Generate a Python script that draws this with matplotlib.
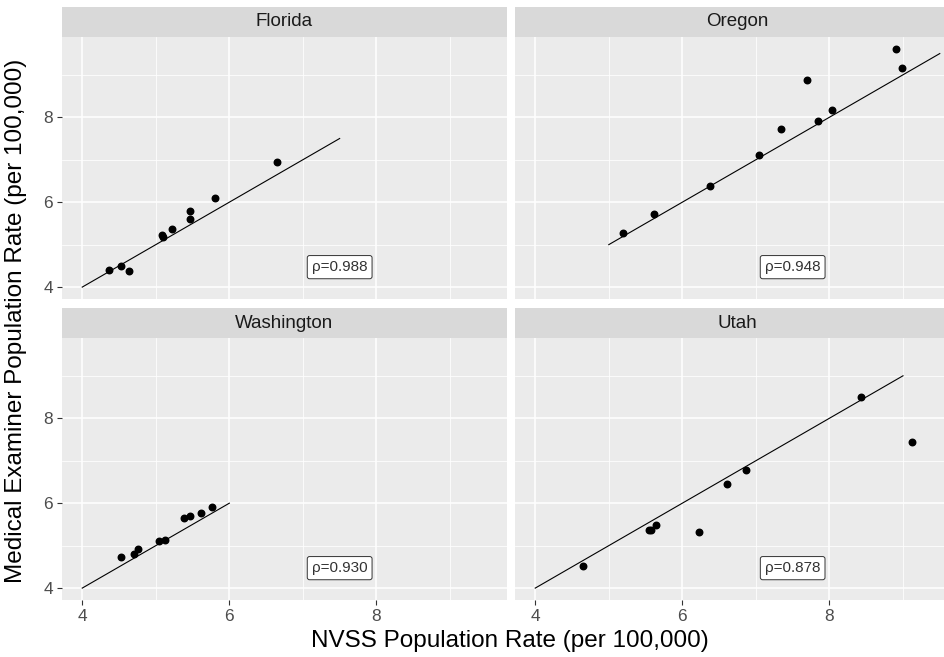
import numpy as np
import matplotlib
matplotlib.use('Agg')
import matplotlib.pyplot as plt

plt.rcParams['font.family'] = ['Liberation Sans', 'DejaVu Sans']

states = ['Florida', 'Oregon', 'Washington', 'Utah']

florida_x = [4.37, 4.53, 4.64, 5.09, 5.10, 5.22, 5.47, 5.47, 5.80, 6.65]
florida_y = [4.41, 4.50, 4.38, 5.22, 5.17, 5.38, 5.79, 5.61, 6.11, 6.95]

oregon_x = [5.20, 5.61, 6.37, 7.04, 7.34, 7.69, 7.85, 8.03, 8.91, 8.98]
oregon_y = [5.27, 5.71, 6.38, 7.11, 7.72, 8.88, 7.91, 8.17, 9.61, 9.15]

washington_x = [4.53, 4.71, 4.76, 5.04, 5.13, 5.39, 5.46, 5.61, 5.76]
washington_y = [4.73, 4.80, 4.92, 5.11, 5.13, 5.64, 5.69, 5.78, 5.90]

utah_x = [4.65, 5.54, 5.58, 5.64, 6.23, 6.61, 6.86, 8.43, 9.12]
utah_y = [4.51, 5.37, 5.38, 5.48, 5.31, 6.44, 6.77, 8.49, 7.44]

# identity line drawn over each state's range
line_start = [4.0, 5.0, 4.0, 4.0]
line_end = [7.5, 9.5, 6.0, 9.0]

rho_labels = ['ρ=0.988', 'ρ=0.948', 'ρ=0.930', 'ρ=0.878']

xs = [florida_x, oregon_x, washington_x, utah_x]
ys = [florida_y, oregon_y, washington_y, utah_y]

W, H = 945, 657
fig = plt.figure(figsize=(W / 100, H / 100), dpi=100)
fig.patch.set_facecolor('white')

# panel boxes in pixels: (left, top, right, bottom)
panels = [(62, 37, 507, 299), (515, 37, 960, 299),
          (62, 338, 507, 600), (515, 338, 960, 600)]
strip_h = 30

def px_axes(l, t, r, b):
	return fig.add_axes([l / W, 1 - b / H, (r - l) / W, (b - t) / H])

for i, (l, t, r, b) in enumerate(panels):
	ax = px_axes(l, t, r, b)
	ax.set_facecolor('#EBEBEB')
	ax.set_xlim(3.725, 9.775)
	ax.set_ylim(3.72, 9.89)
	ax.set_xticks([4, 6, 8])
	ax.set_yticks([4, 6, 8])
	ax.set_xticks([5, 7, 9], minor=True)
	ax.set_yticks([5, 7, 9], minor=True)
	ax.grid(True, which='major', color='white', linewidth=1.1)
	ax.grid(True, which='minor', color='white', linewidth=0.55)
	ax.set_axisbelow(True)
	for sp in ax.spines.values():
		sp.set_visible(False)
	ax.tick_params(which='minor', length=0)
	ax.tick_params(which='major', length=3.5, color='#333333', labelcolor='#4D4D4D',
				   labelsize=12.5, width=0.8, pad=3)
	if i % 2 == 1:
		ax.tick_params(axis='y', which='major', length=0, labelleft=False)
	if i < 2:
		ax.tick_params(axis='x', which='major', length=0, labelbottom=False)

	ax.plot([line_start[i], line_end[i]], [line_start[i], line_end[i]],
			color='black', linewidth=0.8)
	ax.scatter(xs[i], ys[i], s=22, color='black', zorder=3)
	ax.text(7.5, 4.47, rho_labels[i], ha='center', va='center', fontsize=11,
			color='#333333',
			bbox=dict(boxstyle='round,pad=0.3,rounding_size=0.15',
					  facecolor='white', edgecolor='#333333', linewidth=0.7))

	sax = px_axes(l, t - strip_h, r, t)
	sax.set_facecolor('#D9D9D9')
	sax.set_xticks([])
	sax.set_yticks([])
	for sp in sax.spines.values():
		sp.set_visible(False)
	sax.text(0.5, 0.5, states[i], ha='center', va='center', fontsize=13.5,
			 color='#1A1A1A', transform=sax.transAxes)

fig.text(510 / W, 1 - 641 / H, 'NVSS Population Rate (per 100,000)',
		 ha='center', va='center', fontsize=17.5)
fig.text(16 / W, 1 - 321 / H, 'Medical Examiner Population Rate (per 100,000)',
		 ha='center', va='center', rotation=90, fontsize=17.5)

fig.savefig('out.png', dpi=100)
